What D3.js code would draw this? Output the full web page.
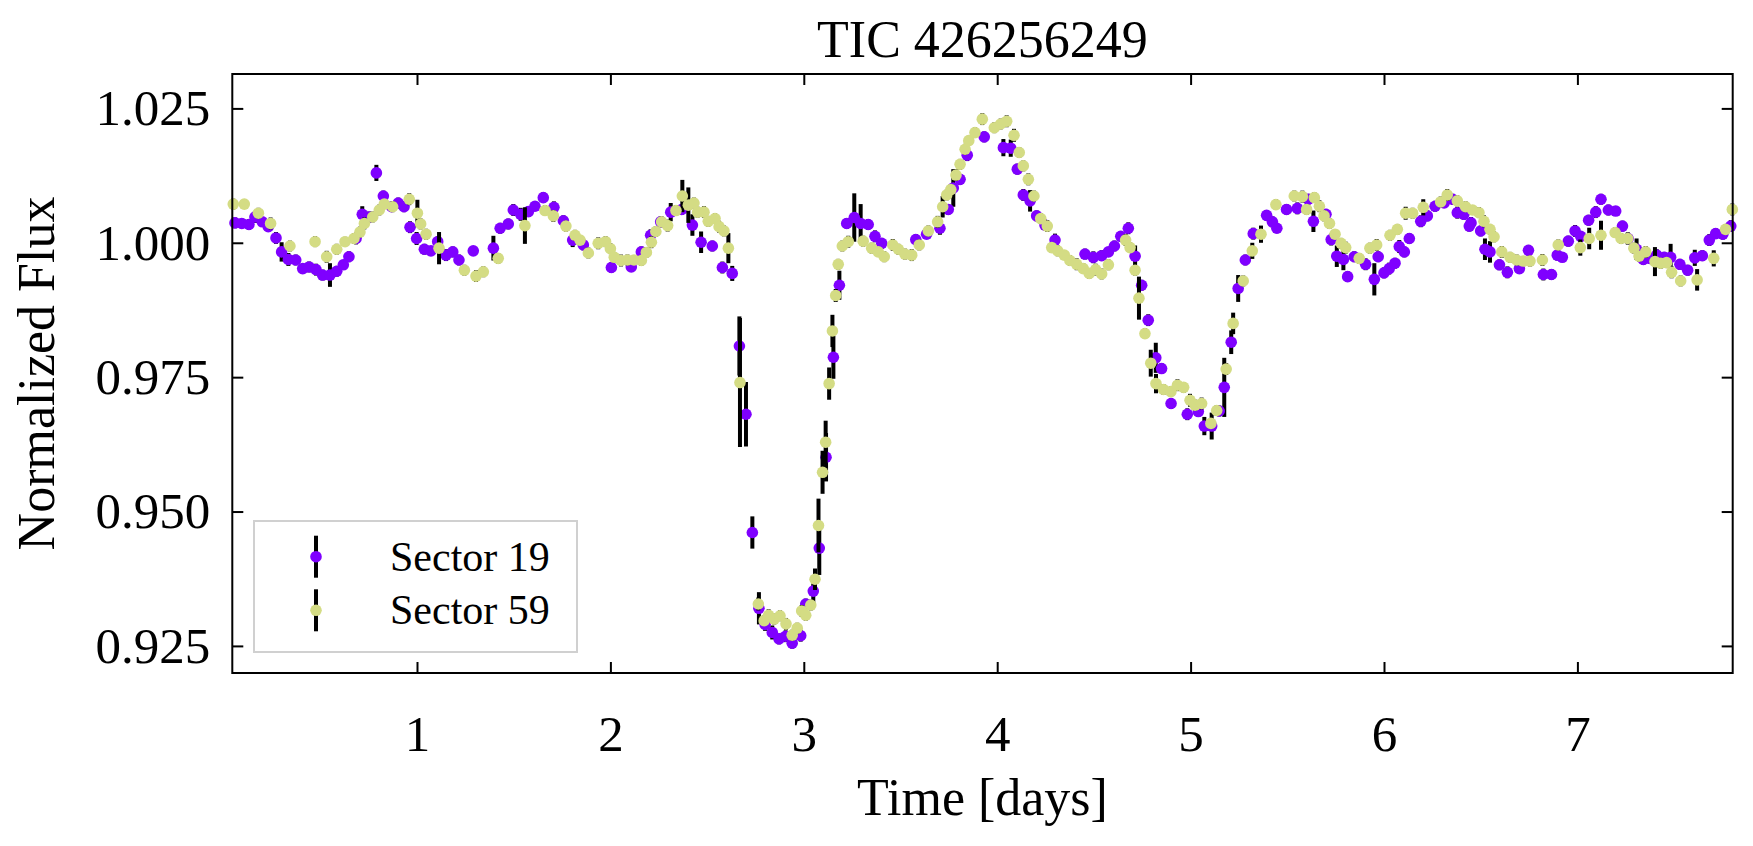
<!DOCTYPE html>
<html>
<head>
<meta charset="utf-8">
<script src="https://cdn.jsdelivr.net/npm/d3@7"></script>
<style>
  html, body { margin: 0; padding: 0; background: #fff; }
  svg text { font-family: "Liberation Serif", "DejaVu Serif", serif; fill: #000; }
</style>
</head>
<body>
<svg id="chart" width="1753" height="846"></svg>
<script>
// tick values
const xTicks = [1, 2, 3, 4, 5, 6, 7];
const yTicks = [0.925, 0.950, 0.975, 1.000, 1.025];
const seriesNames = ["Sector 19", "Sector 59"];
const seriesColors = ["#7f00ff", "#d4dc84"];

// [time (days), normalized flux, error]
const sector19 = [
  [0.059,1.0037,0.0010],[0.094,1.0036,0.0009],[0.131,1.0034,0.0010],[0.162,1.0048,0.0011],
  [0.200,1.0039,0.0009],[0.231,1.0030,0.0010],[0.271,1.0009,0.0011],[0.300,0.9983,0.0018],
  [0.335,0.9969,0.0012],[0.373,0.9968,0.0010],[0.409,0.9952,0.0009],[0.442,0.9955,0.0010],
  [0.478,0.9950,0.0011],[0.512,0.9940,0.0010],[0.550,0.9940,0.0022],[0.585,0.9947,0.0010],
  [0.619,0.9959,0.0009],[0.648,0.9974,0.0010],[0.685,1.0008,0.0011],[0.717,1.0053,0.0015],
  [0.752,1.0048,0.0010],[0.790,1.0130,0.0015],[0.826,1.0087,0.0010],[0.869,1.0067,0.0009],
  [0.903,1.0074,0.0010],[0.933,1.0067,0.0010],[0.964,1.0029,0.0011],[0.998,1.0008,0.0012],
  [1.038,0.9988,0.0010],[1.072,0.9985,0.0009],[1.107,1.0002,0.0010],[1.150,0.9977,0.0011],
  [1.185,0.9983,0.0010],[1.217,0.9968,0.0010],[1.291,0.9985,0.0009],[1.395,0.9990,0.0023],
  [1.430,1.0027,0.0010],[1.472,1.0035,0.0010],[1.498,1.0061,0.0011],[1.536,1.0053,0.0012],
  [1.576,1.0058,0.0010],[1.610,1.0068,0.0009],[1.653,1.0084,0.0010],[1.708,1.0066,0.0011],
  [1.757,1.0041,0.0010],[1.805,1.0005,0.0013],[1.860,0.9996,0.0010],[2.005,0.9954,0.0010],
  [2.108,0.9955,0.0009],[2.160,0.9983,0.0010],[2.208,1.0014,0.0011],[2.260,1.0039,0.0010],
  [2.312,1.0057,0.0017],[2.369,1.0062,0.0010],[2.424,1.0033,0.0020],[2.469,1.0001,0.0020],
  [2.527,0.9994,0.0010],[2.579,0.9954,0.0011],[2.630,0.9943,0.0014],[2.667,0.9808,0.0055],
  [2.701,0.9681,0.0060],[2.734,0.9461,0.0030],[2.768,0.9320,0.0030],[2.800,0.9290,0.0012],
  [2.837,0.9275,0.0013],[2.872,0.9263,0.0010],[2.906,0.9268,0.0011],[2.940,0.9255,0.0010],
  [2.984,0.9269,0.0011],[3.010,0.9328,0.0010],[3.049,0.9352,0.0025],[3.080,0.9432,0.0050],
  [3.115,0.9601,0.0045],[3.153,0.9787,0.0040],[3.184,0.9921,0.0027],[3.222,1.0036,0.0010],
  [3.261,1.0047,0.0045],[3.294,1.0036,0.0036],[3.333,1.0034,0.0010],[3.368,1.0012,0.0011],
  [3.403,0.9999,0.0010],[3.579,1.0006,0.0010],[3.635,1.0016,0.0009],[3.704,1.0027,0.0012],
  [3.747,1.0062,0.0010],[3.773,1.0102,0.0035],[3.808,1.0118,0.0010],[3.845,1.0163,0.0011],
  [3.933,1.0197,0.0010],[4.032,1.0177,0.0016],[4.070,1.0176,0.0016],[4.104,1.0137,0.0010],
  [4.135,1.0089,0.0011],[4.170,1.0078,0.0020],[4.204,1.0050,0.0010],[4.247,1.0033,0.0010],
  [4.299,1.0005,0.0012],[4.454,0.9979,0.0010],[4.497,0.9973,0.0011],[4.540,0.9976,0.0010],
  [4.575,0.9983,0.0009],[4.606,0.9994,0.0010],[4.639,1.0012,0.0010],[4.678,1.0027,0.0011],
  [4.713,0.9975,0.0020],[4.747,0.9921,0.0010],[4.781,0.9856,0.0011],[4.820,0.9786,0.0028],
  [4.850,0.9766,0.0010],[4.899,0.9701,0.0010],[4.983,0.9681,0.0011],[5.040,0.9686,0.0010],
  [5.071,0.9659,0.0017],[5.109,0.9659,0.0025],[5.148,0.9687,0.0010],[5.174,0.9731,0.0055],
  [5.210,0.9815,0.0022],[5.246,0.9915,0.0025],[5.283,0.9968,0.0010],[5.324,1.0017,0.0011],
  [5.393,1.0051,0.0010],[5.423,1.0039,0.0010],[5.446,1.0027,0.0009],[5.496,1.0062,0.0010],
  [5.552,1.0064,0.0011],[5.609,1.0081,0.0010],[5.635,1.0040,0.0020],[5.700,1.0053,0.0010],
  [5.727,1.0006,0.0011],[5.756,0.9975,0.0020],[5.790,0.9969,0.0020],[5.812,0.9937,0.0010],
  [5.846,0.9974,0.0010],[5.905,0.9960,0.0011],[5.950,0.9932,0.0030],[5.970,0.9974,0.0010],
  [6.000,0.9944,0.0010],[6.027,0.9952,0.0011],[6.057,0.9962,0.0010],[6.079,0.9993,0.0012],
  [6.105,0.9983,0.0010],[6.131,1.0008,0.0010],[6.190,1.0040,0.0011],[6.224,1.0050,0.0010],
  [6.264,1.0068,0.0010],[6.311,1.0074,0.0009],[6.355,1.0081,0.0010],[6.379,1.0056,0.0011],
  [6.413,1.0053,0.0010],[6.441,1.0031,0.0010],[6.450,1.0037,0.0011],[6.500,1.0022,0.0010],
  [6.522,0.9988,0.0020],[6.548,0.9983,0.0020],[6.597,0.9959,0.0010],[6.638,0.9945,0.0011],
  [6.700,0.9952,0.0010],[6.747,0.9986,0.0010],[6.824,0.9941,0.0011],[6.866,0.9941,0.0010],
  [6.896,0.9977,0.0010],[6.922,0.9973,0.0009],[6.953,1.0003,0.0010],[6.988,1.0022,0.0011],
  [7.017,1.0012,0.0010],[7.058,1.0042,0.0010],[7.095,1.0057,0.0011],[7.122,1.0081,0.0010],
  [7.160,1.0061,0.0010],[7.198,1.0059,0.0009],[7.233,1.0031,0.0010],[7.262,1.0008,0.0011],
  [7.306,0.9988,0.0020],[7.341,0.9969,0.0010],[7.375,0.9971,0.0010],[7.410,0.9977,0.0011],
  [7.449,0.9973,0.0010],[7.482,0.9973,0.0025],[7.530,0.9960,0.0010],[7.570,0.9949,0.0010],
  [7.607,0.9972,0.0015],[7.646,0.9976,0.0010],[7.682,1.0005,0.0011],[7.715,1.0017,0.0010],
  [7.752,1.0016,0.0010],[7.793,1.0031,0.0011]
];

const sector59 = [
  [0.050,1.0072,0.0010],[0.107,1.0072,0.0009],[0.180,1.0055,0.0010],[0.243,1.0036,0.0011],
  [0.343,0.9994,0.0010],[0.473,1.0002,0.0010],[0.533,0.9974,0.0011],[0.585,0.9988,0.0010],
  [0.628,1.0002,0.0009],[0.674,1.0008,0.0010],[0.705,1.0020,0.0010],[0.728,1.0036,0.0011],
  [0.771,1.0048,0.0010],[0.805,1.0061,0.0010],[0.831,1.0072,0.0009],[0.874,1.0067,0.0010],
  [0.960,1.0081,0.0011],[1.002,1.0055,0.0025],[1.019,1.0035,0.0010],[1.047,1.0016,0.0010],
  [1.114,0.9990,0.0030],[1.245,0.9949,0.0010],[1.305,0.9938,0.0011],[1.343,0.9946,0.0010],
  [1.420,0.9971,0.0010],[1.558,1.0032,0.0034],[1.662,1.0060,0.0010],[1.705,1.0050,0.0011],
  [1.770,1.0031,0.0010],[1.817,1.0014,0.0010],[1.843,1.0005,0.0009],[1.886,0.9981,0.0010],
  [1.937,0.9999,0.0011],[1.975,1.0002,0.0010],[2.000,0.9989,0.0010],[2.020,0.9973,0.0010],
  [2.055,0.9967,0.0011],[2.088,0.9968,0.0010],[2.122,0.9968,0.0009],[2.160,0.9967,0.0010],
  [2.186,0.9982,0.0010],[2.212,1.0001,0.0011],[2.235,1.0021,0.0010],[2.265,1.0039,0.0010],
  [2.296,1.0032,0.0011],[2.339,1.0060,0.0010],[2.372,1.0087,0.0030],[2.403,1.0070,0.0033],
  [2.432,1.0074,0.0010],[2.451,1.0057,0.0010],[2.484,1.0057,0.0011],[2.506,1.0040,0.0010],
  [2.541,1.0045,0.0010],[2.562,1.0030,0.0011],[2.587,1.0022,0.0010],[2.610,0.9990,0.0028],
  [2.670,0.9740,0.0120],[2.765,0.9328,0.0012],[2.795,0.9297,0.0010],[2.818,0.9307,0.0011],
  [2.847,0.9300,0.0010],[2.877,0.9306,0.0010],[2.908,0.9291,0.0011],[2.940,0.9270,0.0010],
  [2.966,0.9283,0.0010],[2.989,0.9315,0.0011],[3.010,0.9307,0.0010],[3.036,0.9326,0.0010],
  [3.058,0.9374,0.0020],[3.076,0.9474,0.0050],[3.097,0.9573,0.0040],[3.113,0.9629,0.0040],
  [3.131,0.9738,0.0030],[3.148,0.9836,0.0030],[3.165,0.9902,0.0012],[3.178,0.9960,0.0010],
  [3.199,0.9994,0.0010],[3.230,1.0002,0.0011],[3.307,1.0003,0.0010],[3.351,0.9990,0.0010],
  [3.385,0.9983,0.0009],[3.416,0.9974,0.0010],[3.460,0.9996,0.0011],[3.489,0.9988,0.0010],
  [3.523,0.9979,0.0010],[3.558,0.9977,0.0011],[3.597,0.9996,0.0010],[3.644,1.0022,0.0010],
  [3.692,1.0039,0.0011],[3.718,1.0067,0.0020],[3.739,1.0089,0.0010],[3.760,1.0099,0.0010],
  [3.787,1.0126,0.0011],[3.808,1.0146,0.0010],[3.834,1.0174,0.0010],[3.853,1.0190,0.0009],
  [3.885,1.0205,0.0010],[3.923,1.0230,0.0011],[3.985,1.0214,0.0010],[4.018,1.0221,0.0010],
  [4.049,1.0226,0.0011],[4.087,1.0200,0.0012],[4.114,1.0168,0.0010],[4.135,1.0143,0.0010],
  [4.161,1.0118,0.0011],[4.190,1.0087,0.0010],[4.225,1.0045,0.0010],[4.259,1.0031,0.0011],
  [4.282,0.9991,0.0010],[4.313,0.9985,0.0010],[4.347,0.9977,0.0009],[4.376,0.9967,0.0010],
  [4.411,0.9960,0.0011],[4.445,0.9952,0.0010],[4.476,0.9943,0.0010],[4.509,0.9950,0.0011],
  [4.540,0.9942,0.0010],[4.575,0.9959,0.0010],[4.664,1.0005,0.0011],[4.687,0.9991,0.0010],
  [4.713,0.9949,0.0010],[4.733,0.9897,0.0040],[4.764,0.9831,0.0010],[4.794,0.9776,0.0025],
  [4.821,0.9738,0.0018],[4.860,0.9727,0.0010],[4.898,0.9723,0.0010],[4.932,0.9735,0.0011],
  [4.964,0.9731,0.0010],[4.997,0.9707,0.0012],[5.023,0.9698,0.0010],[5.057,0.9701,0.0011],
  [5.105,0.9664,0.0010],[5.135,0.9688,0.0010],[5.184,0.9765,0.0011],[5.220,0.9850,0.0020],
  [5.272,0.9929,0.0010],[5.319,0.9985,0.0015],[5.364,1.0016,0.0016],[5.441,1.0071,0.0010],
  [5.536,1.0087,0.0010],[5.578,1.0086,0.0011],[5.600,1.0062,0.0010],[5.640,1.0084,0.0010],
  [5.666,1.0068,0.0011],[5.690,1.0050,0.0010],[5.718,1.0036,0.0010],[5.747,1.0016,0.0009],
  [5.778,0.9999,0.0010],[5.802,0.9991,0.0011],[5.872,0.9971,0.0010],[5.927,0.9990,0.0010],
  [5.962,0.9996,0.0011],[6.031,1.0014,0.0010],[6.069,1.0025,0.0010],[6.112,1.0055,0.0012],
  [6.148,1.0055,0.0010],[6.203,1.0066,0.0015],[6.293,1.0076,0.0010],[6.327,1.0089,0.0011],
  [6.379,1.0078,0.0010],[6.422,1.0067,0.0010],[6.458,1.0061,0.0009],[6.491,1.0056,0.0010],
  [6.517,1.0040,0.0011],[6.548,1.0025,0.0010],[6.569,1.0011,0.0010],[6.609,0.9983,0.0011],
  [6.652,0.9973,0.0010],[6.686,0.9968,0.0010],[6.720,0.9966,0.0009],[6.755,0.9966,0.0010],
  [6.819,0.9968,0.0011],[6.901,0.9996,0.0010],[7.015,0.9991,0.0015],[7.061,1.0008,0.0020],
  [7.122,1.0014,0.0027],[7.195,1.0019,0.0010],[7.226,1.0008,0.0010],[7.260,1.0008,0.0011],
  [7.292,0.9990,0.0010],[7.319,0.9975,0.0010],[7.353,0.9983,0.0011],[7.401,0.9965,0.0027],
  [7.431,0.9962,0.0010],[7.461,0.9963,0.0010],[7.487,0.9945,0.0011],[7.534,0.9929,0.0010],
  [7.619,0.9931,0.0020],[7.705,0.9971,0.0015],[7.766,1.0025,0.0010],[7.801,1.0062,0.0011]
];

const width = 1753, height = 846;
const plot = { left: 232.3, right: 1732.7, top: 74, bottom: 673 };
const markerR = 5.8;

const svg = d3.select("#chart");

const x = d3.scaleLinear().domain([0.045, 7.803]).range([plot.left, plot.right]);
const y = d3.scaleLinear().domain([0.91996, 1.0314]).range([plot.bottom, plot.top]);

// markers and error bars, sector 19 first, sector 59 on top
const gData = svg.append("g").attr("class", "data");
[sector19, sector59].forEach((pts, i) => {
  const g = gData.append("g").attr("class", "series-" + i);
  g.selectAll("line.err")
    .data(pts)
    .join("line")
    .attr("class", "err")
    .attr("x1", d => x(d[0]))
    .attr("x2", d => x(d[0]))
    .attr("y1", d => y(d[1] - d[2]))
    .attr("y2", d => y(d[1] + d[2]))
    .attr("stroke", "#000")
    .attr("stroke-width", 4);
  g.selectAll("circle")
    .data(pts)
    .join("circle")
    .attr("cx", d => x(d[0]))
    .attr("cy", d => y(d[1]))
    .attr("r", markerR)
    .attr("fill", seriesColors[i]);
});

// axes, ticks pointing inward
const tickLen = 11;
const axisBottom = d3.axisBottom(x).tickValues(xTicks).tickFormat(d3.format("d"))
  .tickSizeInner(-tickLen).tickSizeOuter(0).tickPadding(42);
const axisTop = d3.axisTop(x).tickValues(xTicks).tickFormat("")
  .tickSizeInner(-tickLen).tickSizeOuter(0);
const axisLeft = d3.axisLeft(y).tickValues(yTicks).tickFormat(d3.format(".3f"))
  .tickSizeInner(-tickLen).tickSizeOuter(0).tickPadding(22);
const axisRight = d3.axisRight(y).tickValues(yTicks).tickFormat("")
  .tickSizeInner(-tickLen).tickSizeOuter(0);

function styleAxis(g) {
  g.select(".domain").remove();
  g.selectAll(".tick line").attr("stroke", "#000").attr("stroke-width", 2);
  g.selectAll(".tick text").style("font-size", "51px").attr("fill", "#000");
}

svg.append("g").attr("transform", `translate(0,${plot.bottom})`).call(axisBottom).call(styleAxis);
svg.append("g").attr("transform", `translate(0,${plot.top})`).call(axisTop).call(styleAxis);
svg.append("g").attr("transform", `translate(${plot.left},0)`).call(axisLeft).call(styleAxis);
svg.append("g").attr("transform", `translate(${plot.right},0)`).call(axisRight).call(styleAxis);

// frame
svg.append("rect")
  .attr("x", plot.left).attr("y", plot.top)
  .attr("width", plot.right - plot.left).attr("height", plot.bottom - plot.top)
  .attr("fill", "none").attr("stroke", "#000").attr("stroke-width", 2);

// labels
const cx = (plot.left + plot.right) / 2;
const cy = (plot.top + plot.bottom) / 2;
svg.append("text").attr("x", cx).attr("y", 57).attr("text-anchor", "middle")
  .style("font-size", "52px").text("TIC 426256249");
svg.append("text").attr("x", cx).attr("y", 815).attr("text-anchor", "middle")
  .style("font-size", "52px").text("Time [days]");
svg.append("text").attr("transform", `translate(54,${cy}) rotate(-90)`).attr("text-anchor", "middle")
  .style("font-size", "52px").text("Normalized Flux");

// legend
const legend = svg.append("g").attr("class", "legend");
legend.append("rect")
  .attr("x", 254).attr("y", 521).attr("width", 323).attr("height", 131)
  .attr("fill", "#fff").attr("fill-opacity", 0.8)
  .attr("stroke", "#d0d0d0").attr("stroke-width", 2);
const legendRows = [556.7, 610.3];
seriesNames.forEach((name, i) => {
  const ry = legendRows[i];
  legend.append("line")
    .attr("x1", 316).attr("x2", 316).attr("y1", ry - 21).attr("y2", ry + 21)
    .attr("stroke", "#000").attr("stroke-width", 4);
  legend.append("circle").attr("cx", 316).attr("cy", ry).attr("r", markerR).attr("fill", seriesColors[i]);
  legend.append("text").attr("x", 390).attr("y", ry + 14)
    .style("font-size", "42px").text(name);
});
</script>
</body>
</html>
